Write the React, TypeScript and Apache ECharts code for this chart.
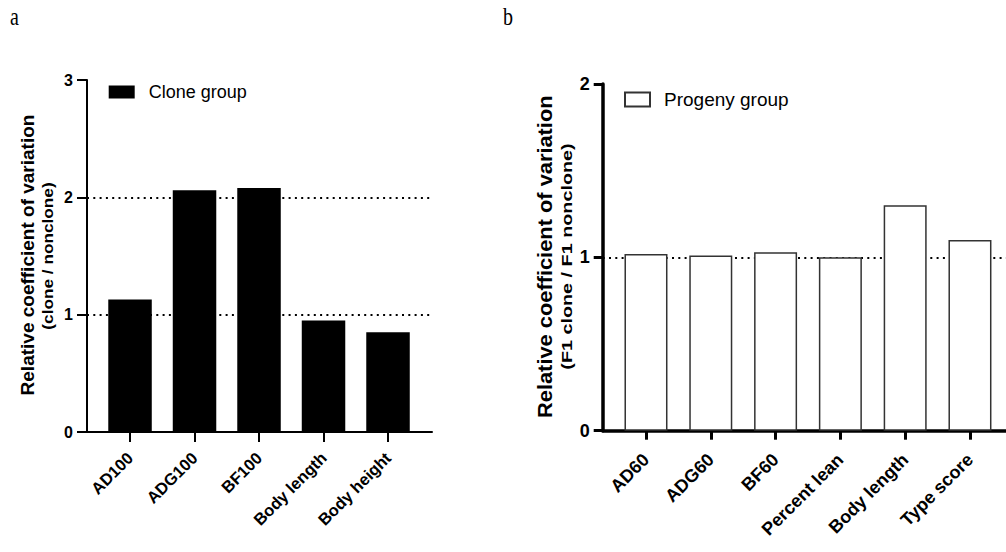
import React, { useEffect, useRef } from "react";
import * as echarts from "echarts";

const leftCategories = ["AD100", "ADG100", "BF100", "Body length", "Body height"];
const leftValues = [1.13, 2.06, 2.08, 0.95, 0.85];
const rightCategories = ["AD60", "ADG60", "BF60", "Percent lean", "Body length", "Type score"];
const rightValues = [1.02, 1.01, 1.03, 1.0, 1.3, 1.1];
const leftSeriesName = "Clone group";
const rightSeriesName = "Progeny group";
const yTitle = "Relative coefficient of variation";
const leftSubTitle = "(clone / nonclone)";
const rightSubTitle = "(F1 clone / F1 nonclone)";

const FONT = "Arial, Liberation Sans, Helvetica, sans-serif";
const SERIF = "Times New Roman, Liberation Serif, serif";

export default function App() {
  const ref = useRef<HTMLDivElement>(null);
  useEffect(() => {
    if (!ref.current) return;
    const chart = echarts.init(ref.current, undefined, { renderer: "svg" });
    const leftIdx = leftCategories.map((_, i) => i);
    const rightIdx = rightCategories.map((_, i) => i);
    const dotted = { type: [2, 4.3], color: "#000", width: 2 };
    chart.setOption({
      animation: false,
      backgroundColor: "#fff",
      grid: [
        { left: 87, top: 80, width: 345, height: 352, containLabel: false },
        { left: 602.7, top: 84, width: 403.3, height: 346.7, containLabel: false },
      ],
      legend: [
        {
          data: [leftSeriesName],
          left: 108.7,
          top: 83,
          padding: 0,
          itemWidth: 26,
          itemHeight: 13,
          icon: "rect",
          textStyle: { fontSize: 18, color: "#000", fontFamily: FONT, padding: [0, 0, 0, 9] },
        },
        {
          data: [rightSeriesName],
          left: 624,
          top: 90,
          padding: 0,
          itemWidth: 25,
          itemHeight: 14,
          icon: "rect",
          textStyle: { fontSize: 19, color: "#000", fontFamily: FONT, padding: [0, 0, 0, 9] },
        },
      ],
      xAxis: [
        {
          type: "value",
          gridIndex: 0,
          min: -0.667,
          max: 4.682,
          axisLine: { show: true, onZero: false, lineStyle: { color: "#000", width: 2 } },
          axisTick: { show: true, customValues: leftIdx, length: 10, lineStyle: { color: "#000", width: 2 } },
          axisLabel: {
            customValues: leftIdx,
            rotate: 45,
            margin: 23,
            fontSize: 16.5,
            fontWeight: "bold",
            color: "#000",
            fontFamily: FONT,
            formatter: (v: number) => leftCategories[Math.round(v)] ?? "",
          },
          splitLine: { show: false },
        },
        {
          type: "value",
          gridIndex: 1,
          min: -0.668,
          max: 5.556,
          axisLine: { show: true, onZero: false, lineStyle: { color: "#000", width: 3.5 } },
          axisTick: { show: true, customValues: rightIdx, length: 9, lineStyle: { color: "#000", width: 3 } },
          axisLabel: {
            customValues: rightIdx,
            rotate: 45,
            margin: 26,
            fontSize: 18,
            fontWeight: "bold",
            color: "#000",
            fontFamily: FONT,
            formatter: (v: number) => rightCategories[Math.round(v)] ?? "",
          },
          splitLine: { show: false },
        },
      ],
      yAxis: [
        {
          type: "value",
          gridIndex: 0,
          min: 0,
          max: 3,
          interval: 1,
          axisLine: { show: true, onZero: false, lineStyle: { color: "#000", width: 2 } },
          axisTick: { show: true, length: 10, lineStyle: { color: "#000", width: 2 } },
          axisLabel: { margin: 14, fontSize: 16, fontWeight: "bold", color: "#000", fontFamily: FONT },
          splitLine: { show: true, showMinLine: false, showMaxLine: false, lineStyle: dotted },
        },
        {
          type: "value",
          gridIndex: 1,
          min: 0,
          max: 2,
          interval: 1,
          axisLine: { show: true, onZero: false, lineStyle: { color: "#000", width: 3.5 } },
          axisTick: { show: true, length: 9, lineStyle: { color: "#000", width: 3 } },
          axisLabel: { margin: 13, fontSize: 18, fontWeight: "bold", color: "#000", fontFamily: FONT },
          splitLine: { show: true, showMinLine: false, showMaxLine: false, lineStyle: dotted },
        },
      ],
      series: [
        {
          name: leftSeriesName,
          type: "bar",
          xAxisIndex: 0,
          yAxisIndex: 0,
          barWidth: 43.5,
          data: leftValues.map((v, i) => [i, v]),
          itemStyle: { color: "#000" },
        },
        {
          name: rightSeriesName,
          type: "bar",
          xAxisIndex: 1,
          yAxisIndex: 1,
          barWidth: 43,
          data: rightValues.map((v, i) => [i, v]),
          itemStyle: { color: "#fff", borderColor: "#333", borderWidth: 1.5 },
        },
      ],
      graphic: [
        {
          type: "text",
          x: 10,
          y: 17,
          scaleY: 1.25,
          style: { text: "a", fontSize: 20, fontFamily: SERIF, fill: "#000", align: "left", verticalAlign: "middle" },
        },
        {
          type: "text",
          x: 503,
          y: 17,
          scaleY: 1.25,
          style: { text: "b", fontSize: 20, fontFamily: SERIF, fill: "#000", align: "left", verticalAlign: "middle" },
        },
        {
          type: "text",
          x: 27.7,
          y: 255,
          rotation: Math.PI / 2,
          style: { text: yTitle, fontSize: 19, fontWeight: "bold", fontFamily: FONT, fill: "#000", align: "center", verticalAlign: "middle" },
        },
        {
          type: "text",
          x: 48.3,
          y: 256,
          rotation: Math.PI / 2,
          scaleX: 1.23,
          style: { text: leftSubTitle, fontSize: 14, fontWeight: "bold", fontFamily: FONT, fill: "#000", align: "center", verticalAlign: "middle" },
        },
        {
          type: "text",
          x: 545,
          y: 256.7,
          rotation: Math.PI / 2,
          scaleX: 1.04,
          style: { text: yTitle, fontSize: 21, fontWeight: "bold", fontFamily: FONT, fill: "#000", align: "center", verticalAlign: "middle" },
        },
        {
          type: "text",
          x: 566.7,
          y: 256.5,
          rotation: Math.PI / 2,
          scaleX: 1.32,
          style: { text: rightSubTitle, fontSize: 15, fontWeight: "bold", fontFamily: FONT, fill: "#000", align: "center", verticalAlign: "middle" },
        },
      ],
    });
    return () => chart.dispose();
  }, []);
  return (
    <div
      ref={ref}
      style={{ position: "absolute", left: 0, top: 0, width: 1006, height: 552, background: "#fff" }}
    />
  );
}
